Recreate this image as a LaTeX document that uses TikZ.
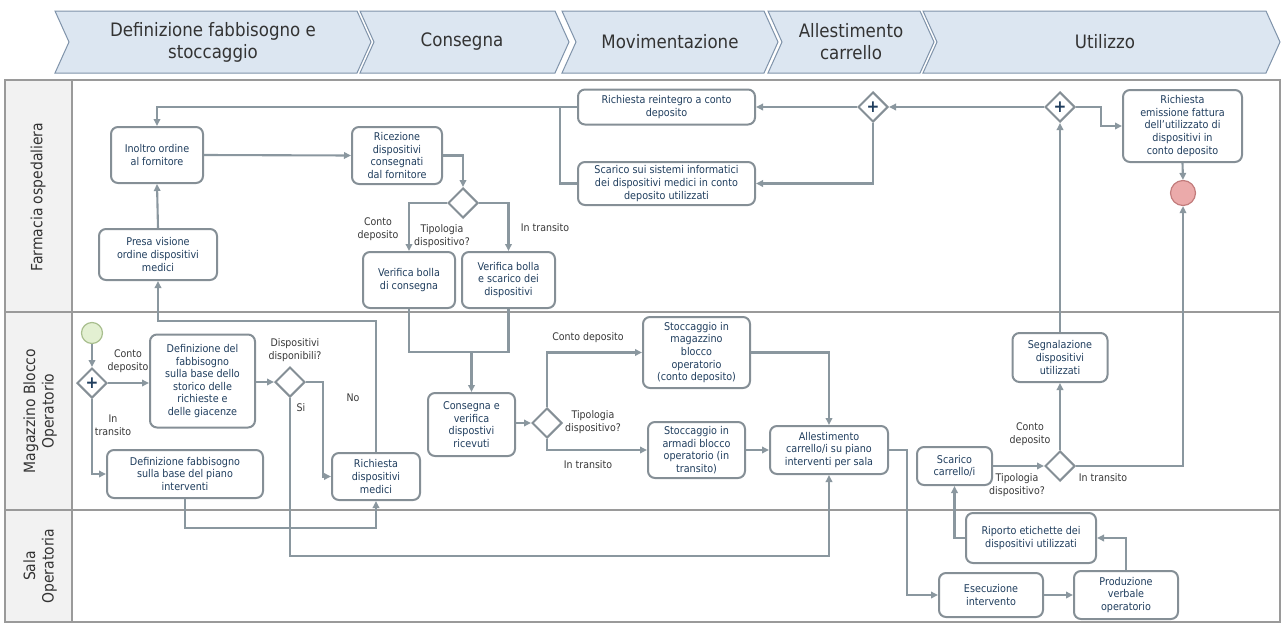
\documentclass[tikz,border=0pt]{standalone}
\usepackage{fontspec}
\setmainfont{DejaVu Sans Condensed}
\usetikzlibrary{arrows.meta,shapes.geometric}
\definecolor{boxline}{HTML}{858F96}
\definecolor{flowc}{HTML}{8A979F}
\definecolor{boxtext}{HTML}{203E5E}
\definecolor{labeltext}{HTML}{383838}
\definecolor{lanefill}{HTML}{F2F2F2}
\definecolor{laneline}{HTML}{9A9A9A}
\definecolor{phasefill}{HTML}{DCE6F1}
\definecolor{phaseline}{HTML}{7F93AA}
\definecolor{startfill}{HTML}{E3F0D2}
\definecolor{startline}{HTML}{A9BF8F}
\definecolor{endfill}{HTML}{EBAAAA}
\definecolor{endline}{HTML}{C27C7C}

\begin{document}
\begin{tikzpicture}[x=1pt,y=-1pt,
  task/.style={draw=boxline, line width=2pt, rounded corners=7pt, fill=white,
    text=boxtext, align=center, inner sep=0pt, font=\fontsize{10.7}{12.6}\selectfont},
  gate/.style={draw=boxline, line width=2pt, diamond, fill=white, minimum width=30pt,
    minimum height=30pt, inner sep=0pt, text=boxtext, font=\fontsize{17}{17}\selectfont\bfseries},
  flow/.style={draw=flowc, line width=2.1pt, -{Triangle[length=7pt,width=6.5pt]}},
  link/.style={draw=flowc, line width=2.1pt},
  lbl/.style={text=labeltext, align=center, font=\fontsize{10.5}{13}\selectfont, inner sep=0pt},
  phase/.style={draw=phaseline, line width=1pt, fill=phasefill},
  phasetext/.style={text=black!80, align=center, font=\fontsize{18.5}{22}\selectfont},
  lanetext/.style={text=black!80, align=center, rotate=90, font=\fontsize{15.5}{18.5}\selectfont}
]
\useasboundingbox (0,0) rectangle (1283,624);

% phase chevrons
\draw[phase] (55,11) -- (357,11) -- (371,42) -- (357,73) -- (55,73) -- (69,42) -- cycle;
\draw[phase] (360,11) -- (555,11) -- (569,42) -- (555,73) -- (360,73) -- (374,42) -- cycle;
\draw[phase] (562,11) -- (764,11) -- (778,42) -- (764,73) -- (562,73) -- (576,42) -- cycle;
\draw[phase] (768,11) -- (920,11) -- (934,42) -- (920,73) -- (768,73) -- (782,42) -- cycle;
\draw[phase] (923,11) -- (1266,11) -- (1280,42) -- (1266,73) -- (923,73) -- (937,42) -- cycle;
\node[phasetext] (ph1) at (213,42) {Definizione fabbisogno e\\stoccaggio};
\node[phasetext] (ph2) at (462,42) {Consegna};
\node[phasetext] (ph3) at (670,42) {Movimentazione};
\node[phasetext] (ph4) at (851,42) {Allestimento\\carrello};
\node[phasetext] (ph5) at (1105,42) {Utilizzo};

% swimlanes
\draw[laneline, line width=1.2pt, fill=lanefill] (5,80) rectangle (72,622);
\draw[laneline, line width=1.2pt] (5,80) rectangle (1280,622);
\draw[laneline, line width=1.2pt] (5,312) -- (1280,312);
\draw[laneline, line width=1.2pt] (5,510) -- (1280,510);
\node[lanetext] (lane1) at (38,197) {Farmacia ospedaliera};
\node[lanetext] (lane2) at (40,411) {Magazzino Blocco\\Operatorio};
\node[lanetext] (lane3) at (40,566) {Sala\\Operatoria};

% events
\node[circle, draw=startline, fill=startfill, line width=1.2pt, minimum size=21pt, inner sep=0pt] (start) at (92,333) {};
\node[circle, draw=endline, fill=endfill, line width=1.2pt, minimum size=25pt, inner sep=0pt] (endev) at (1183,193) {};

% gateways
\node[gate] (g0) at (92,383) {+};
\node[gate] (g1) at (873,107) {+};
\node[gate] (g2) at (1060,107) {+};
\node[gate] (g3) at (290,382) {};
\node[gate] (gtip) at (463,203) {};
\node[gate] (g4) at (547,423) {};
\node[gate] (g5) at (1060,466) {};

% tasks: Farmacia ospedaliera
\node[task, minimum width=92pt, minimum height=56pt] (inoltro) at (157,155) {Inoltro ordine\\al fornitore};
\node[task, minimum width=90pt, minimum height=57pt] (ricez) at (397,155.5) {Ricezione\\dispositivi\\consegnati\\dal fornitore};
\node[task, minimum width=118pt, minimum height=51pt] (presa) at (158,254.5) {Presa visione\\ordine dispositivi\\medici};
\node[task, minimum width=177pt, minimum height=35pt] (reint) at (666.5,107) {Richiesta reintegro a conto\\deposito};
\node[task, minimum width=177pt, minimum height=43pt] (scarsi) at (666.5,183.5) {Scarico sui sistemi informatici\\dei dispositivi medici in conto\\deposito utilizzati};
\node[task, minimum width=92pt, minimum height=56pt] (vercons) at (409,280) {Verifica bolla\\di consegna};
\node[task, minimum width=93pt, minimum height=56pt] (verscar) at (508.5,280) {Verifica bolla\\e scarico dei\\dispositivi};
\node[task, minimum width=119pt, minimum height=72pt] (emiss) at (1182.5,126) {Richiesta\\emissione fattura\\dell'utilizzato di\\dispositivi in\\conto deposito};

% tasks: Magazzino Blocco Operatorio
\node[task, minimum width=105pt, minimum height=93pt] (defstor) at (202.5,381) {Definizione del\\fabbisogno\\sulla base dello\\storico delle\\richieste e\\delle giacenze};
\node[task, minimum width=156pt, minimum height=48pt] (defpiano) at (185,474) {Definizione fabbisogno\\sulla base del piano\\interventi};
\node[task, minimum width=88pt, minimum height=47pt] (richdisp) at (376,476.5) {Richiesta\\dispositivi\\medici};
\node[task, minimum width=87pt, minimum height=63pt] (consver) at (471.5,424.5) {Consegna e\\verifica\\dispostivi\\ricevuti};
\node[task, minimum width=107pt, minimum height=71pt] (stoccmag) at (696.5,352.5) {Stoccaggio in\\magazzino\\blocco\\operatorio\\(conto deposito)};
\node[task, minimum width=97pt, minimum height=56pt] (stoccarm) at (696.5,450) {Stoccaggio in\\armadi blocco\\operatorio (in\\transito)};
\node[task, minimum width=118pt, minimum height=48pt] (allest) at (829,450) {Allestimento\\carrello/i su piano\\interventi per sala};
\node[task, minimum width=95pt, minimum height=49pt] (segnal) at (1060,357.5) {Segnalazione\\dispositivi\\utilizzati};
\node[task, minimum width=75pt, minimum height=38pt] (scarcarr) at (954.5,466) {Scarico\\carrello/i};

% tasks: Sala Operatoria
\node[task, minimum width=130pt, minimum height=50pt] (riporto) at (1031,538) {Riporto etichette dei\\dispositivi utilizzati};
\node[task, minimum width=104pt, minimum height=44pt] (esec) at (991,595) {Esecuzione\\intervento};
\node[task, minimum width=104pt, minimum height=48pt] (produz) at (1126,595) {Produzione\\verbale\\operatorio};

% junction points of merging flows
\coordinate (mrg) at (471.5,352);
\coordinate (jn) at (560,107);

% sequence flows
\draw[flow] (start) -- (g0);
\draw[flow] (g0.east) -- (g0.east -| defstor.west);
\draw[flow] (g0.south) |- (defpiano.west);
\draw[flow] (defstor.east |- g3.west) -- (g3.west);
\draw[flow] (g3.east) -- ++(17,0) |- (richdisp.west);
\draw[flow] (g3.south) -- ++(0,158) -| (allest.south);
\draw[flow] (defpiano.south) -- ++(0,29) -| (richdisp.south);
\draw[flow] (richdisp.north) -- ++(0,-131) -| (presa.south);
\draw[flow] (presa.north) -- (inoltro.south);
\draw[flow] (inoltro.east) -- (ricez.west);
\draw[flow] (ricez.east) -| (gtip.north);
\draw[flow] (gtip.west) -| (vercons.north);
\draw[flow] (gtip.east) -| (verscar.north);
\draw[link] (vercons.south) |- (mrg);
\draw[link] (verscar.south) |- (mrg);
\draw[flow] (mrg) -- (consver.north);
\draw[flow] (consver.east |- g4.west) -- (g4.west);
\draw[flow] (g4.north) |- (stoccmag.west);
\draw[flow] (g4.south) |- (stoccarm.west);
\draw[flow] (stoccmag.east) -| (allest.north);
\draw[flow] (stoccarm.east) -- (allest.west);
\draw[flow] (allest.east) -- ++(18,0) |- (esec.west);
\draw[flow] (esec.east) -- (produz.west);
\draw[flow] (produz.north) |- (riporto.east);
\draw[flow] (riporto.west) -| (scarcarr.south);
\draw[flow] (scarcarr.east) -- (g5.west);
\draw[flow] (g5.north) -- (segnal.south);
\draw[flow] (g5.east) -| (endev.south);
\draw[flow] (segnal.north) -- (g2.south);
\draw[flow] (g2.east) -- ++(25,0) |- (emiss.west);
\draw[flow] (emiss.south) -- (endev.north);
\draw[flow] (g2.west) -- (g1.east);
\draw[flow] (g1.west) -- (reint.east);
\draw[flow] (g1.south) |- (scarsi.east);
\draw[flow] (reint.west) -| (inoltro.north);
\draw[link] (scarsi.west) -| (jn);

% flow labels
\node[lbl] (l1) at (128,361) {Conto\\deposito};
\node[lbl] (l2) at (113,425) {In\\transito};
\node[lbl] (l3) at (295,350) {Dispositivi\\disponibili?};
\node[lbl] (l4) at (353,398) {No};
\node[lbl] (l5) at (301,408) {Si};
\node[lbl] (l6) at (378,229) {Conto\\deposito};
\node[lbl] (l7) at (442,236) {Tipologia\\dispositivo?};
\node[lbl] (l8) at (545,228) {In transito};
\node[lbl] (l9) at (588,338) {Conto deposito};
\node[lbl] (l10) at (593,422) {Tipologia\\dispositivo?};
\node[lbl] (l11) at (588,465) {In transito};
\node[lbl] (l12) at (1030,434) {Conto\\deposito};
\node[lbl] (l13) at (1017,485) {Tipologia\\dispositivo?};
\node[lbl] (l14) at (1103,478) {In transito};
\end{tikzpicture}
\end{document}
